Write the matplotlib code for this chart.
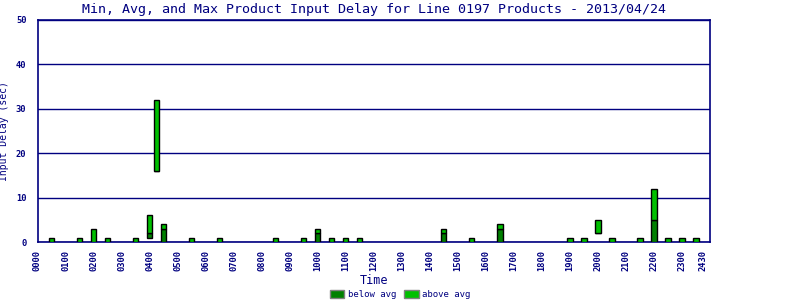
import matplotlib
matplotlib.use("Agg")
import matplotlib.pyplot as plt
from matplotlib.patches import Patch

# Data (time in hours of day)
times = [0.5, 1.5, 2.0, 2.5, 3.5, 4.0, 4.25, 4.5, 5.5, 6.5, 8.5, 9.5, 10.0, 10.5,
         11.0, 11.5, 14.5, 15.5, 16.5, 19.0, 19.5, 20.0, 20.5, 21.5, 22.0, 22.5,
         23.0, 23.5]
min_delay = [0, 0, 0, 0, 0, 1, 16, 0, 0, 0, 0, 0, 0, 0,
             0, 0, 0, 0, 0, 0, 0, 2, 0, 0, 0, 0, 0, 0]
avg_delay = [0, 0, 0, 0, 0, 2, 16, 3, 0, 0, 0, 0, 2, 0,
             0, 0, 2, 0, 3, 0, 0, 2, 0, 0, 5, 0, 0, 0]
max_delay = [1, 1, 3, 1, 1, 6, 32, 4, 1, 1, 1, 1, 3, 1,
             1, 1, 3, 1, 4, 1, 1, 5, 1, 1, 12, 1, 1, 1]

tick_pos = list(range(24)) + [23.75]
tick_labels = ["%02d00" % h for h in range(24)] + ["2430"]

title = "Min, Avg, and Max Product Input Delay for Line 0197 Products - 2013/04/24"

NAVY = "#000080"
DARK = "#008000"
LIGHT = "#00c000"
MONO = "DejaVu Sans Mono"

fig = plt.figure(figsize=(8, 3), dpi=100)
ax = fig.add_axes([37.5 / 800, 1 - 242 / 300, (710 - 37.5) / 800, (242 - 20) / 300])

below_h = [a - m for a, m in zip(avg_delay, min_delay)]
above_h = [x - a for x, a in zip(max_delay, avg_delay)]
w = 0.19
ax.bar(times, below_h, bottom=min_delay, width=w, color=DARK, edgecolor="black",
       linewidth=1.0, zorder=3)
ax.bar(times, above_h, bottom=avg_delay, width=w, color=LIGHT, edgecolor="black",
       linewidth=1.0, zorder=3)

ax.set_xlim(0, 24)
ax.set_ylim(0, 50)
ax.set_yticks([0, 10, 20, 30, 40, 50])
ax.yaxis.grid(True, color=NAVY, linewidth=1.0)
ax.set_axisbelow(True)
for s in ["left", "right", "bottom", "top"]:
    ax.spines[s].set_color(NAVY)
    ax.spines[s].set_linewidth(1.2)

ax.set_xticks(tick_pos)
ax.set_xticklabels(tick_labels, rotation=90, family=MONO, fontsize=6.3,
                   fontweight="bold", color=NAVY)
ax.tick_params(axis="x", length=0, pad=6)
ax.tick_params(axis="y", length=0, pad=8, labelsize=6.3, labelcolor=NAVY)
for t in ax.get_yticklabels():
    t.set_family(MONO)
    t.set_fontweight("bold")

ax.set_title(title, family=MONO, fontsize=9.6, color=NAVY, pad=5)
ax.set_xlabel("Time", family=MONO, fontsize=8.5, color=NAVY, labelpad=2)
ax.set_ylabel("Input Delay (sec)", family=MONO, fontsize=7, color=NAVY, labelpad=5)

handles = [Patch(facecolor=DARK, edgecolor="grey", linewidth=1.0, label="below avg"),
           Patch(facecolor=LIGHT, edgecolor="grey", linewidth=1.0, label="above avg")]
fig.legend(handles=handles, loc="center", bbox_to_anchor=(0.5, 0.017), ncol=2,
           frameon=False, prop={"family": MONO, "size": 6.5}, labelcolor=NAVY,
           handlelength=1.6, handleheight=1.0, handletextpad=0.4, columnspacing=0.9,
           borderpad=0)

fig.savefig("out.png", dpi=100)
